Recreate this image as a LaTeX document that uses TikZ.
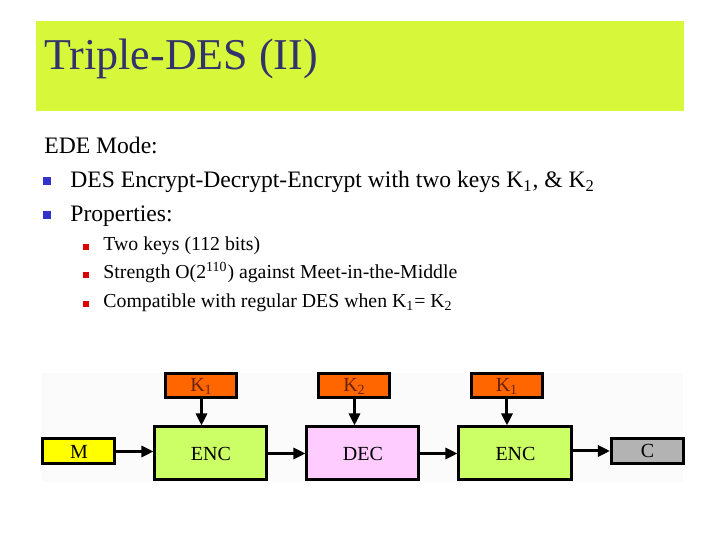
\documentclass[tikz,border=0pt]{standalone}
\usepackage{fontspec}
\setmainfont{Liberation Serif}
\usetikzlibrary{arrows.meta,positioning}
\definecolor{barlime}{HTML}{D7F73B}
\definecolor{titlenavy}{HTML}{33336B}
\definecolor{bulletblue}{HTML}{3333CC}
\definecolor{bulletred}{HTML}{DD0000}
\definecolor{keyorange}{HTML}{FF6600}
\definecolor{keytext}{HTML}{6B2200}
\definecolor{encgreen}{HTML}{CCFF66}
\definecolor{decpink}{HTML}{FFCCFF}
\definecolor{msgyellow}{HTML}{FFFF00}
\definecolor{ciphergray}{HTML}{B3B3B3}

\begin{document}
\begin{tikzpicture}[
  x=0.5pt,
  y=-0.5pt,
  >=Triangle,
  block/.style={draw=black, line width=1.5pt, inner sep=0pt, align=center, font=\fontsize{10}{12}\selectfont},
  keybox/.style={block, fill=keyorange, text=keytext, minimum width=35.5pt, minimum height=12pt},
  stagebox/.style={block, minimum width=56pt, minimum height=26.5pt},
  endbox/.style={block, minimum width=36pt, minimum height=12.5pt},
  flow/.style={-{Triangle[length=6pt, width=5.5pt]}, line width=1.5pt},
  bigtext/.style={anchor=base west, inner sep=0pt, font=\fontsize{11.8}{14}\selectfont},
  smalltext/.style={anchor=base west, inner sep=0pt, font=\fontsize{9.9}{12}\selectfont},
  mainbullet/.style={fill=bulletblue, inner sep=0pt, minimum size=3.6pt},
  subbullet/.style={fill=bulletred, inner sep=0pt, minimum size=2.6pt}
]
\useasboundingbox (0,0) rectangle (720,540);

% title bar
\node[fill=barlime, anchor=north west, minimum width=324pt, minimum height=45pt, inner sep=0pt] (bar) at (36,21) {};
\node[anchor=base west, inner sep=0pt, text=titlenavy, font=\fontsize{22}{26}\selectfont] (title) at (44,70) {Triple-DES (II)};

% bullet text
\node[bigtext] (mode) at (44,154) {EDE Mode:};
\node[mainbullet] (b1) at (47,181) {};
\node[bigtext] (ede) at (70,188) {DES Encrypt-Decrypt-Encrypt with two keys K\textsubscript{1}, \& K\textsubscript{2}};
\node[mainbullet] (b2) at (47,215) {};
\node[bigtext] (props) at (70,222) {Properties:};
\node[subbullet] (s1) at (86,247) {};
\node[smalltext] (keys) at (103,251) {Two keys (112 bits)};
\node[subbullet] (s2) at (86,275) {};
\node[smalltext] (strength) at (103,279) {Strength O(2\textsuperscript{110}) against Meet-in-the-Middle};
\node[subbullet] (s3) at (86,304) {};
\node[smalltext] (compat) at (103,308) {Compatible with regular DES when K\textsubscript{1}= K\textsubscript{2}};

% EDE chain
\node[fill=black!1.5, anchor=north west, minimum width=320.5pt, minimum height=54.5pt, inner sep=0pt] (bg) at (42,373) {};
\node[endbox, fill=msgyellow] (msg) at (79,451.5) {M};
\node[stagebox, fill=encgreen] (enc1) at (211,453.5) {ENC};
\node[keybox] (k1) at (201.5,386) {K\textsubscript{1}};
\node[stagebox, fill=decpink] (dec) at (363,453.5) {DEC};
\node[keybox] (k2) at (354.5,386) {K\textsubscript{2}};
\node[stagebox, fill=encgreen, minimum width=56.5pt] (enc2) at (515.5,453.5) {ENC};
\node[keybox] (k3) at (507,386) {K\textsubscript{1}};
\node[endbox, fill=ciphergray] (cipher) at (647.5,451) {C};

\draw[flow] (msg.east) -- (msg.east -| enc1.west);
\draw[flow] (enc1) -- (dec);
\draw[flow] (dec) -- (enc2);
\draw[flow] (enc2.east |- cipher.west) -- (cipher.west);
\draw[flow] (k1.south) -- (k1.south |- enc1.north);
\draw[flow] (k2.south) -- (k2.south |- dec.north);
\draw[flow] (k3.south) -- (k3.south |- enc2.north);

\end{tikzpicture}
\end{document}
